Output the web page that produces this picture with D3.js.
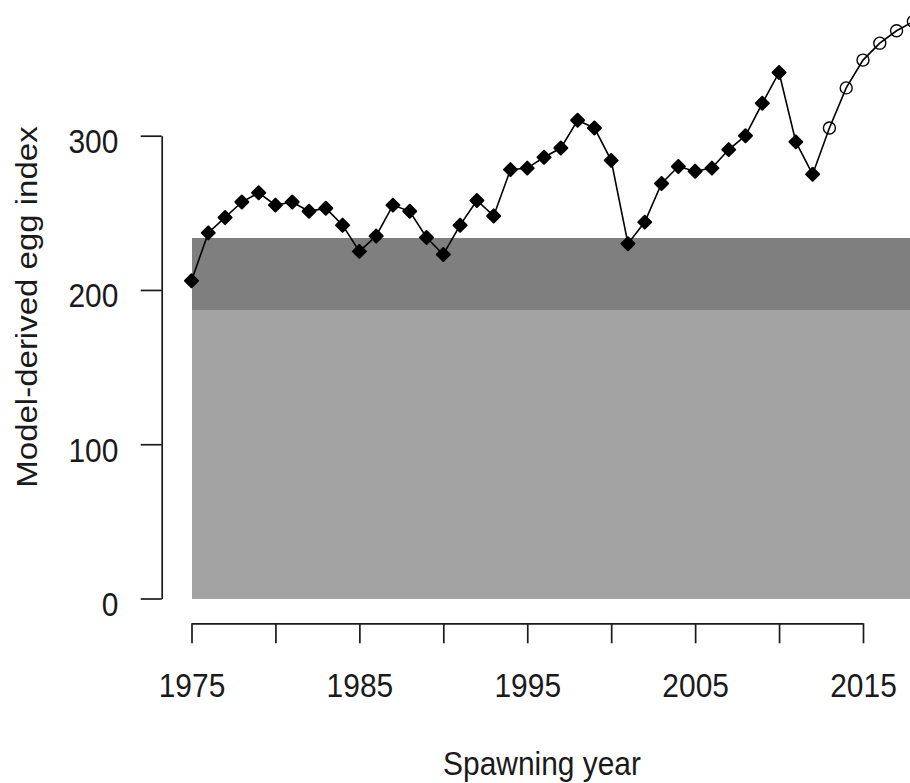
<!DOCTYPE html>
<html>
<head>
<meta charset="utf-8">
<script src="https://cdn.jsdelivr.net/npm/d3@7"></script>
<style>
  body { margin: 0; background: #fff; }
  svg { display: block; font-family: "Liberation Sans", Arial, sans-serif; }
  .axis path, .axis line { stroke: #1a1a1a; stroke-width: 1.7; }
  .axis text { fill: #1a1a1a; font-size: 34px; }
</style>
</head>
<body>
<div id="chart"></div>
<script>
// observed egg index (filled diamonds)
const obsYears = [1975, 1976, 1977, 1978, 1979, 1980, 1981, 1982, 1983, 1984,
                  1985, 1986, 1987, 1988, 1989, 1990, 1991, 1992, 1993, 1994,
                  1995, 1996, 1997, 1998, 1999, 2000, 2001, 2002, 2003, 2004,
                  2005, 2006, 2007, 2008, 2009, 2010, 2011, 2012];
const obsValues = [206, 237, 247, 257, 263, 255, 257, 251, 253, 242,
                   225, 235, 255, 251, 234, 223, 242, 258, 248, 278,
                   279, 286, 292, 310, 305, 284, 230, 244, 269, 280,
                   277, 279, 291, 300, 321, 341, 296, 275];

// projected values (open circles)
const projYears = [2013, 2014, 2015, 2016, 2017, 2018];
const projValues = [305, 331, 349, 360, 368, 374];

// reference bands
const bandLower = 187;
const bandUpper = 234;
const bandYears = [1975, 2020];

const xTicks = [1975, 1980, 1985, 1990, 1995, 2000, 2005, 2010, 2015];
const xLabels = [1975, 1985, 1995, 2005, 2015];
const yTicks = [0, 100, 200, 300];

const width = 910;
const height = 783;
const squeeze = 0.88;

const svg = d3.select('#chart')
              .append('svg')
              .attr('width', width)
              .attr('height', height);

const x = d3.scaleLinear().domain([1975, 2015]).range([191.5, 863]);
const y = d3.scaleLinear().domain([0, 300]).range([598.5, 135.7]);

// shaded bands
svg.append('rect')
   .attr('x', x(bandYears[0]))
   .attr('width', x(bandYears[1]) - x(bandYears[0]))
   .attr('y', y(bandUpper))
   .attr('height', y(0) - y(bandUpper))
   .attr('fill', '#a3a3a3')
   .attr('shape-rendering', 'crispEdges');

svg.append('rect')
   .attr('x', x(bandYears[0]))
   .attr('width', x(bandYears[1]) - x(bandYears[0]))
   .attr('y', y(bandUpper))
   .attr('height', y(bandLower) - y(bandUpper))
   .attr('fill', '#7f7f7f')
   .attr('shape-rendering', 'crispEdges');

// series line
const allPts = obsYears.map((yr, i) => [yr, obsValues[i]])
                       .concat(projYears.map((yr, i) => [yr, projValues[i]]));

svg.append('path')
   .datum(allPts)
   .attr('fill', 'none')
   .attr('stroke', '#000')
   .attr('stroke-width', 1.6)
   .attr('d', d3.line().x(d => x(d[0])).y(d => y(d[1])));

// filled diamonds
svg.selectAll('.obs')
   .data(obsYears.map((yr, i) => [yr, obsValues[i]]))
   .enter().append('path')
   .attr('class', 'obs')
   .attr('transform', d => `translate(${x(d[0])},${y(d[1])})`)
   .attr('d', 'M0,-6.5L6.5,0L0,6.5L-6.5,0Z')
   .attr('fill', '#000')
   .attr('stroke', '#000')
   .attr('stroke-width', 2)
   .attr('stroke-linejoin', 'round');

// open circles
svg.selectAll('.proj')
   .data(projYears.map((yr, i) => [yr, projValues[i]]))
   .enter().append('circle')
   .attr('class', 'proj')
   .attr('cx', d => x(d[0]))
   .attr('cy', d => y(d[1]))
   .attr('r', 6)
   .attr('fill', 'none')
   .attr('stroke', '#000')
   .attr('stroke-width', 1.4);

// x axis
const xAxis = svg.append('g')
                 .attr('class', 'axis')
                 .attr('transform', 'translate(0,623.3)')
                 .call(d3.axisBottom(x)
                         .tickValues(xTicks)
                         .tickSize(20)
                         .tickSizeOuter(0)
                         .tickFormat(d => xLabels.includes(d) ? d : ''));
xAxis.selectAll('text')
     .attr('dy', null)
     .attr('y', 74)
     .attr('transform', `scale(${squeeze},1)`);

// y axis
const yAxis = svg.append('g')
                 .attr('class', 'axis')
                 .attr('transform', 'translate(161.7,0)')
                 .call(d3.axisLeft(y)
                         .tickValues(yTicks)
                         .tickSize(21)
                         .tickSizeOuter(0));
yAxis.selectAll('text')
     .attr('dy', null)
     .attr('y', 17)
     .attr('x', -43.4 / squeeze)
     .attr('transform', `scale(${squeeze},1)`);

// axis titles
svg.append('text')
   .attr('transform', `translate(542,775) scale(${squeeze},1)`)
   .attr('text-anchor', 'middle')
   .attr('font-size', 34)
   .attr('fill', '#1a1a1a')
   .text('Spawning year');

svg.append('text')
   .attr('transform', `translate(37,307) rotate(-90) scale(1,${squeeze})`)
   .attr('text-anchor', 'middle')
   .attr('font-size', 33)
   .attr('fill', '#1a1a1a')
   .text('Model-derived egg index');
</script>
</body>
</html>
